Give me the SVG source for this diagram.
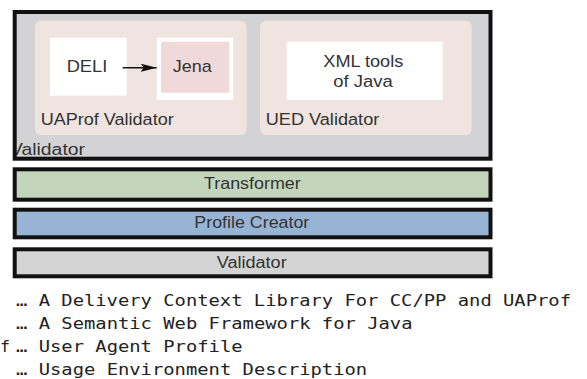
<svg xmlns="http://www.w3.org/2000/svg" width="587" height="379" viewBox="0 0 587 379">
<style>
.lbl{font-family:"Liberation Sans",Arial,sans-serif;fill:#333;}
.box{stroke:#111;stroke-width:4;}
.mono{font-family:"DejaVu Sans Mono","Liberation Mono",monospace;font-size:15px;fill:#222;}
</style>
<defs>
<marker id="ah" viewBox="0 0 16 8" refX="16" refY="4" markerWidth="16" markerHeight="8" markerUnits="userSpaceOnUse" orient="auto">
<path d="M0,0 L16,4 L0,8 L3,4 z" fill="#111"/>
</marker>
<clipPath id="outerClip"><rect x="16" y="13" width="473" height="144"/></clipPath>
</defs>
<rect width="587" height="379" fill="#fff"/>
<g id="validator-outer">
<rect x="14.7" y="12" width="475.8" height="146.7" fill="#d3d3d5"/>
<text class="lbl" x="10" y="155" font-size="16" textLength="75" lengthAdjust="spacingAndGlyphs" clip-path="url(#outerClip)">Validator</text>
<rect class="box" x="14.7" y="12" width="475.8" height="146.7" fill="none"/>
</g>
<g id="uaprof-validator">
<rect x="35" y="20.7" width="211.7" height="114.3" rx="6" fill="#efe4e0"/>
<text class="lbl" x="40.7" y="125" font-size="16" textLength="133" lengthAdjust="spacingAndGlyphs">UAProf Validator</text>
</g>
<g id="deli">
<rect x="50" y="37.7" width="76.7" height="58" fill="#fff"/>
<text class="lbl" x="66.7" y="71.7" font-size="17" textLength="40.6" lengthAdjust="spacingAndGlyphs">DELI</text>
</g>
<g id="jena">
<rect x="156.7" y="37.7" width="76.6" height="62.3" fill="#fff"/>
<rect x="161" y="41.7" width="68.3" height="51" fill="#f0d9d9"/>
<text class="lbl" x="172.7" y="71.7" font-size="17" textLength="39" lengthAdjust="spacingAndGlyphs">Jena</text>
</g>
<g id="ued-validator">
<rect x="260" y="20.7" width="211.7" height="114.3" rx="6" fill="#efe4e0"/>
<text class="lbl" x="265.7" y="125" font-size="16" textLength="113.6" lengthAdjust="spacingAndGlyphs">UED Validator</text>
</g>
<g id="xml-tools">
<rect x="286.7" y="41.7" width="156" height="58.3" fill="#fff"/>
<text class="lbl" x="323.3" y="66.7" font-size="16" textLength="80" lengthAdjust="spacingAndGlyphs">XML tools</text>
<text class="lbl" x="333.3" y="87.3" font-size="16" textLength="59.4" lengthAdjust="spacingAndGlyphs">of Java</text>
</g>
<g id="connectors">
<line x1="122.7" y1="67.7" x2="156.7" y2="67.7" stroke="#111" stroke-width="1.6" marker-end="url(#ah)"/>
</g>
<g id="transformer">
<rect class="box" x="14.7" y="169.3" width="475.8" height="30.4" fill="#c3d6bc"/>
<text class="lbl" x="204" y="189.3" font-size="16" textLength="96.7" lengthAdjust="spacingAndGlyphs">Transformer</text>
</g>
<g id="profile-creator">
<rect class="box" x="14.7" y="209.7" width="475.8" height="27.6" fill="#98b4d4"/>
<text class="lbl" x="194.3" y="228.3" font-size="16" textLength="115" lengthAdjust="spacingAndGlyphs">Profile Creator</text>
</g>
<g id="validator">
<rect class="box" x="14.7" y="249.3" width="475.8" height="27" fill="#d4d4d4"/>
<text class="lbl" x="216.7" y="268.3" font-size="16" textLength="70" lengthAdjust="spacingAndGlyphs">Validator</text>
</g>
<g id="legend">
<text class="mono" x="16" y="305.5" textLength="555" lengthAdjust="spacingAndGlyphs">… A Delivery Context Library For CC/PP and UAProf</text>
<text class="mono" x="16" y="329" textLength="396.5" lengthAdjust="spacingAndGlyphs">… A Semantic Web Framework for Java</text>
<text class="mono" x="0" y="352" textLength="10" lengthAdjust="spacingAndGlyphs">f</text>
<text class="mono" x="16" y="352" textLength="226.6" lengthAdjust="spacingAndGlyphs">… User Agent Profile</text>
<text class="mono" x="16" y="375" textLength="351.2" lengthAdjust="spacingAndGlyphs">… Usage Environment Description</text>
</g>
</svg>
